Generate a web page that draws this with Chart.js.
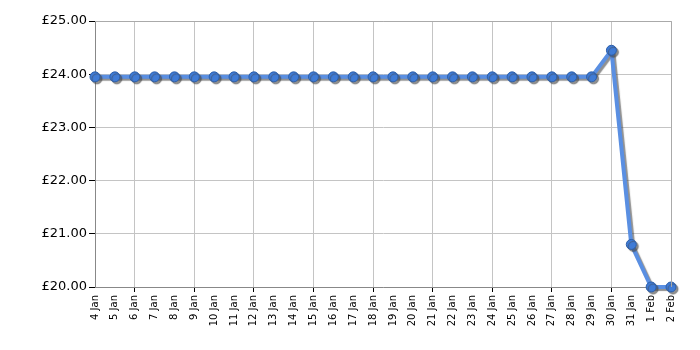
<!DOCTYPE html>
<html>
<head>
<meta charset="utf-8">
<script src="https://cdn.jsdelivr.net/npm/chart.js@4.4.0/dist/chart.umd.min.js"></script>
<style>
  html, body { margin: 0; padding: 0; background: #fff; }
  #wrap { width: 700px; height: 350px; }
</style>
</head>
<body>
<div id="wrap"><canvas id="myChart" width="700" height="350"></canvas></div>
<script>
const dayLabels = ['4 Jan','5 Jan','6 Jan','7 Jan','8 Jan','9 Jan','10 Jan','11 Jan','12 Jan','13 Jan',
  '14 Jan','15 Jan','16 Jan','17 Jan','18 Jan','19 Jan','20 Jan','21 Jan','22 Jan','23 Jan',
  '24 Jan','25 Jan','26 Jan','27 Jan','28 Jan','29 Jan','30 Jan','31 Jan','1 Feb','2 Feb'];
const prices = [23.95,23.95,23.95,23.95,23.95,23.95,23.95,23.95,23.95,23.95,
  23.95,23.95,23.95,23.95,23.95,23.95,23.95,23.95,23.95,23.95,
  23.95,23.95,23.95,23.95,23.95,23.95,24.45,20.80,20.00,20.00];
const yMin = 20, yMax = 25;

// grid lines only every third day (from 6 Jan)
function isGridDay(i){ return i % 3 === 2; }

const shadowPlugin = {
  id: 'shadow',
  beforeDatasetsDraw(chart){
    const c = chart.ctx;
    c.save();
    c.shadowColor = 'rgba(70,70,70,0.6)';
    c.shadowOffsetX = 2;
    c.shadowOffsetY = 2;
    c.shadowBlur = 1;
  },
  afterDatasetsDraw(chart){
    chart.ctx.restore();
  }
};

const config = {
  type: 'line',
  data: {
    labels: dayLabels,
    datasets: [{
      data: prices,
      borderColor: '#5a8fe2',
      borderWidth: 4,
      tension: 0,
      pointRadius: 5,
      pointHoverRadius: 5,
      pointBackgroundColor: '#3f7bd6',
      pointBorderColor: '#2c5ea8',
      pointBorderWidth: 1
    }]
  },
  options: {
    responsive: false,
    animation: false,
    clip: false,
    layout: { padding: { left: 0, right: 29, top: 21, bottom: 0 } },
    plugins: { legend: { display: false }, tooltip: { enabled: false } },
    scales: {
      x: {
        offset: false,
        afterFit(s){ s.height = 63; },
        border: { color: '#888', width: 1 },
        grid: {
          color: ctx => isGridDay(ctx.index) ? '#c4c4c4' : 'rgba(0,0,0,0)',
          tickColor: ctx => isGridDay(ctx.index) ? '#000' : 'rgba(0,0,0,0)',
          tickLength: 5,
          drawOnChartArea: true
        },
        ticks: {
          autoSkip: false,
          maxRotation: 90,
          minRotation: 90,
          color: '#000',
          padding: 3,
          font: { family: 'DejaVu Sans', size: 10 }
        }
      },
      y: {
        min: yMin,
        max: yMax,
        afterFit(s){ s.width = 95; },
        border: { color: '#888', width: 1 },
        grid: { color: '#c4c4c4', tickColor: '#000', tickLength: 6 },
        ticks: {
          stepSize: 1,
          color: '#000',
          padding: 2,
          font: { family: 'DejaVu Sans', size: 13 },
          callback: v => '£' + Number(v).toFixed(2)
        }
      }
    }
  },
  plugins: [shadowPlugin, {
    id: 'frame',
    afterDraw(chart){
      const a = chart.chartArea, c = chart.ctx;
      c.save();
      c.strokeStyle = '#aaa';
      c.lineWidth = 1;
      c.beginPath();
      c.moveTo(a.left, a.top + 0.5);
      c.lineTo(a.right + 0.5, a.top + 0.5);
      c.lineTo(a.right + 0.5, a.bottom);
      c.stroke();
      c.restore();
    }
  }]
};

var myChart = new Chart(document.getElementById('myChart'), config);
</script>
</body>
</html>
